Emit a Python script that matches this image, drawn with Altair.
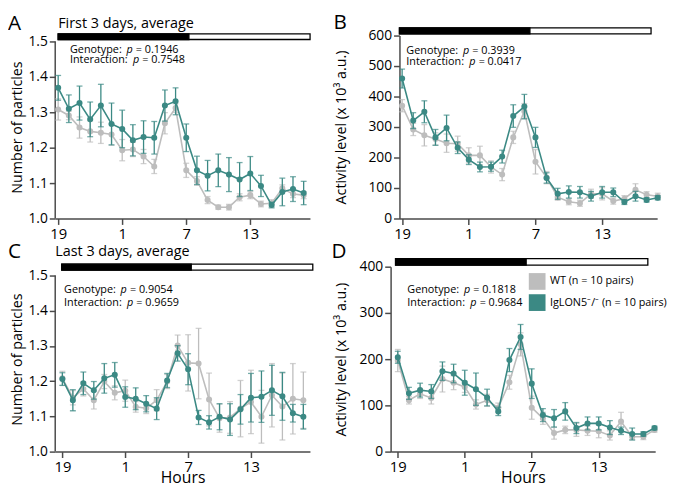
import altair as alt
import pandas as pd

# ---------------- data ----------------
HOURS = list(range(24))
TICK_POS = [0, 6, 12, 18]
TICK_LAB = ["19", "1", "7", "13"]
GENO = ["WT (n = 10 pairs)", "IgLON5\u207b/\u207b (n = 10 pairs)"]
COLORS = ["#bdbdbd", "#3b8984"]

A_WT = [1.308, 1.291, 1.257, 1.246, 1.242, 1.237, 1.193, 1.195, 1.175, 1.147, 1.269, 1.312,
        1.136, 1.106, 1.052, 1.032, 1.032, 1.060, 1.066, 1.041, 1.043, 1.085, 1.069, 1.066]
A_WT_ERR = [0.030, 0.012, 0.030, 0.030, 0.030, 0.030, 0.030, 0.020, 0.020, 0.020, 0.030, 0.012,
            0.020, 0.012, 0.010, 0.006, 0.008, 0.010, 0.010, 0.008, 0.010, 0.010, 0.010, 0.010]
A_KO = [1.369, 1.310, 1.326, 1.280, 1.319, 1.267, 1.253, 1.221, 1.230, 1.228, 1.319, 1.331,
        1.228, 1.136, 1.121, 1.136, 1.124, 1.110, 1.127, 1.092, 1.038, 1.075, 1.083, 1.072]
A_KO_ERR = [0.035, 0.039, 0.048, 0.049, 0.060, 0.059, 0.053, 0.044, 0.046, 0.046, 0.044, 0.038,
            0.039, 0.040, 0.043, 0.046, 0.048, 0.048, 0.048, 0.030, 0.008, 0.039, 0.035, 0.033]

B_WT = [370, 292, 273, 261, 247, 245, 207, 207, 169, 144, 266, 352,
        186, 134, 70, 55, 50, 81, 81, 57, 65, 94, 78, 73]
B_WT_ERR = [20, 20, 35, 20, 30, 25, 25, 30, 20, 20, 20, 25,
            40, 20, 10, 10, 10, 15, 20, 10, 10, 20, 10, 10]
B_KO = [459, 321, 350, 266, 297, 232, 193, 169, 170, 203, 336, 367,
        266, 133, 81, 87, 86, 73, 86, 86, 54, 73, 61, 68]
B_KO_ERR = [31, 26, 36, 26, 42, 19, 16, 16, 15, 21, 37, 40,
            33, 17, 18, 20, 19, 16, 19, 14, 8, 16, 7, 7]

C_WT = [1.208, 1.153, 1.178, 1.146, 1.199, 1.167, 1.173, 1.127, 1.123, 1.146, 1.199, 1.301,
        1.252, 1.250, 1.148, 1.095, 1.097, 1.122, 1.141, 1.099, 1.160, 1.128, 1.150, 1.146]
C_WT_ERR = [0.020, 0.020, 0.020, 0.025, 0.020, 0.020, 0.030, 0.015, 0.015, 0.030, 0.020, 0.030,
            0.080, 0.100, 0.075, 0.040, 0.045, 0.080, 0.090, 0.075, 0.090, 0.095, 0.100, 0.080]
C_KO = [1.206, 1.146, 1.194, 1.174, 1.208, 1.218, 1.155, 1.150, 1.136, 1.122, 1.202, 1.279,
        1.234, 1.097, 1.083, 1.099, 1.091, 1.120, 1.153, 1.156, 1.174, 1.157, 1.109, 1.099]
C_KO_ERR = [0.018, 0.030, 0.032, 0.025, 0.042, 0.035, 0.029, 0.031, 0.023, 0.031, 0.020, 0.022,
            0.044, 0.020, 0.019, 0.037, 0.045, 0.042, 0.069, 0.073, 0.071, 0.068, 0.025, 0.035]

D_WT = [197, 111, 125, 116, 157, 149, 140, 102, 111, 95, 150, 232,
        95, 72, 40, 47, 47, 45, 44, 35, 65, 32, 32, 47]
D_WT_ERR = [24, 8, 10, 13, 28, 15, 12, 10, 13, 10, 15, 25,
            25, 13, 13, 8, 14, 10, 14, 10, 20, 6, 6, 5]
D_KO = [204, 126, 133, 130, 174, 169, 149, 135, 117, 87, 198, 248,
        147, 79, 72, 87, 51, 61, 61, 52, 45, 38, 38, 51]
D_KO_ERR = [13, 13, 15, 15, 20, 20, 27, 35, 18, 9, 25, 27,
            32, 14, 19, 19, 12, 14, 14, 15, 8, 13, 5, 4]

P_TEXT = {
    "A": ["0.1946", "0.7548"],
    "B": ["0.3939", "0.0417"],
    "C": ["0.9054", "0.9659"],
    "D": ["0.1818", "0.9684"],
}
TITLES = {"A": "First 3 days, average", "C": "Last 3 days, average"}
BARS = {  # start, end of dark period, end of light period (hour index)
    "A": [0.0, 12.25, 23.6],
    "B": [-0.24, 11.5, 22.4],
    "C": [-0.06, 12.3, 23.9],
    "D": [-0.2, 11.5, 22.4],
}
Y_TICKS_P = [1.0, 1.1, 1.2, 1.3, 1.4, 1.5]
Y_TICKS_B = [0, 100, 200, 300, 400, 500, 600]
Y_TICKS_D = [0, 100, 200, 300, 400]

# ---------------- style ----------------
FONT = "Open Sans"
AXC = "#4a4a4a"
ANN = 11

label_expr = " : ".join(
    f"datum.value == {p} ? '{l}'" for p, l in zip(TICK_POS, TICK_LAB)
) + " : ''"


def txt(s, x, y, size, align="left", italic=False):
    kw = dict(align=align, baseline="middle", fontSize=size, font=FONT, color="black")
    if italic:
        kw["fontStyle"] = "italic"
    return alt.Chart(pd.DataFrame({"t": [s]})).mark_text(**kw).encode(
        x=alt.value(x), y=alt.value(y), text="t:N"
    )


def panel(key, wt, wt_err, ko, ko_err, cfg):
    xs = alt.Scale(domain=cfg["xdom"], nice=False, zero=False)
    ys = alt.Scale(domain=cfg["ydom"], nice=False, zero=False)
    xaxis = alt.Axis(values=TICK_POS, labelExpr=label_expr, labelFontSize=15)
    yaxis = alt.Axis(values=cfg["yticks"], format=cfg["yfmt"], domain=cfg["ydomline"],
                     titlePadding=cfg["ytp"])
    xtitle = "Hours" if cfg["xtitle"] else None

    def X(f):
        return alt.X(f, scale=xs, axis=xaxis, title=xtitle)

    def Y(f):
        return alt.Y(f, scale=ys, axis=yaxis, title=cfg["ytitle"])

    cscale = alt.Scale(domain=GENO, range=COLORS)
    layers = []

    # light/dark bar
    b = BARS[key]
    bar_df = pd.DataFrame({"s": [b[0]], "m": [b[1]], "e": [b[2]]})
    y1, y2 = cfg["bary"]
    layers.append(alt.Chart(bar_df).mark_rect(fill="white", stroke="black", strokeWidth=1.3)
                  .encode(x=X("s:Q"), x2="e:Q", y=alt.value(y1), y2=alt.value(y2)))
    layers.append(alt.Chart(bar_df).mark_rect(fill="black", stroke="black", strokeWidth=1.3)
                  .encode(x=X("s:Q"), x2="m:Q", y=alt.value(y1), y2=alt.value(y2)))

    if not cfg["ydomline"]:
        ax_df = pd.DataFrame({"y0": [cfg["yticks"][0]], "y1": [cfg["yticks"][-1]]})
        layers.append(alt.Chart(ax_df).mark_rule(color=AXC, strokeWidth=1.5)
                      .encode(x=alt.value(0), y=Y("y0:Q"), y2="y1:Q"))

    col = alt.Color("g:N", scale=cscale, legend=None)
    for gi, (vals, errs) in enumerate([(wt, wt_err), (ko, ko_err)]):
        g = GENO[gi]
        df = pd.DataFrame({
            "hour": HOURS,
            "value": vals,
            "lo": [v - e for v, e in zip(vals, errs)],
            "hi": [v + e for v, e in zip(vals, errs)],
            "g": [g] * len(HOURS),
        })
        base = alt.Chart(df)
        layers.append(base.mark_rule(strokeWidth=1.3).encode(x=X("hour:Q"), y=Y("lo:Q"), y2="hi:Q", color=col))
        layers.append(base.mark_tick(orient="horizontal", size=6, thickness=1.3)
                      .encode(x=X("hour:Q"), y=Y("lo:Q"), color=col))
        layers.append(base.mark_tick(orient="horizontal", size=6, thickness=1.3)
                      .encode(x=X("hour:Q"), y=Y("hi:Q"), color=col))
        layers.append(base.mark_line(strokeWidth=1.6).encode(x=X("hour:Q"), y=Y("value:Q"), color=col))
        layers.append(base.mark_circle(size=38, opacity=1).encode(x=X("hour:Q"), y=Y("value:Q"), color=col))

    # legend (key entries drawn with the same colour scale)
    if cfg.get("legend"):
        lx, ly0, dy = cfg["legend"]
        for gi, g in enumerate(GENO):
            ldf = pd.DataFrame({"g": [g]})
            layers.append(alt.Chart(ldf).mark_square(size=289, opacity=1)
                          .encode(x=alt.value(lx), y=alt.value(ly0 + gi * dy), color=col))
            layers.append(alt.Chart(ldf).mark_text(align="left", baseline="middle", fontSize=11,
                                                   font=FONT, color="black")
                          .encode(x=alt.value(lx + 13), y=alt.value(ly0 + gi * dy), text="g:N"))

    # texts
    lx, ly = cfg["letter"]
    layers.append(txt(key, lx, ly, 21))
    if key in TITLES:
        tx, ty = cfg["title"]
        layers.append(txt(TITLES[key], tx, ty, 14.6))
    ax0 = cfg["ann_x"]
    gy, iy = cfg["ann_y"]
    pg, pi = P_TEXT[key]
    for label, yy, w, val in [("Genotype:", gy, 54.5, pg), ("Interaction:", iy, 61, pi)]:
        layers.append(txt(label, ax0, yy, ANN))
        layers.append(txt("p", ax0 + w + 3, yy, ANN, italic=True))
        layers.append(txt("= " + val, ax0 + w + 12.5, yy, ANN))

    return alt.layer(*layers).properties(width=cfg["w"], height=cfg["h"])


H1, H2 = 186, 188
cfgA = dict(xdom=[-0.277, 23.59], ydom=[1.0, 1.5167], yticks=Y_TICKS_P, yfmt=".1f", ydomline=False,
            ytp=4, ytitle="Number of particles", xtitle=False, w=259, h=H1,
            bary=(-1.7, 4), letter=(-48, -12), title=(3, -12), ann_x=15, ann_y=(14.7, 25.3))
cfgB = dict(xdom=[-0.239, 22.95], ydom=[0, 600], yticks=Y_TICKS_B, yfmt="d", ydomline=True,
            ytp=20, ytitle="Activity level (x 10\u00b3 a.u.)", xtitle=False, w=262, h=H1,
            bary=(-7.7, -1.7), letter=(-67, -13), ann_x=7, ann_y=(15.6, 27.3))
cfgC = dict(xdom=[-0.685, 23.63], ydom=[1.0, 1.5251], yticks=Y_TICKS_P, yfmt=".1f", ydomline=False,
            ytp=4, ytitle="Number of particles", xtitle=True, w=259, h=H2,
            bary=(-2.6, 3.4), letter=(-48, -15), title=(0, -15), ann_x=9, ann_y=(23.7, 36.7))
cfgD = dict(xdom=[-0.643, 23.06], ydom=[0, 400], yticks=Y_TICKS_D, yfmt="d", ydomline=True,
            ytp=11, ytitle="Activity level (x 10\u00b3 a.u.)", xtitle=True, w=269, h=H2,
            bary=(-8.3, -1.7), letter=(-60, -15), ann_x=17, ann_y=(24, 36.7),
            legend=(149, 15, 21.5))

pA = panel("A", A_WT, A_WT_ERR, A_KO, A_KO_ERR, cfgA)
pB = panel("B", B_WT, B_WT_ERR, B_KO, B_KO_ERR, cfgB)
pC = panel("C", C_WT, C_WT_ERR, C_KO, C_KO_ERR, cfgC)
pD = panel("D", D_WT, D_WT_ERR, D_KO, D_KO_ERR, cfgD)

row1 = alt.hconcat(pA, pB, spacing=22)
row2 = alt.hconcat(pC, pD, spacing=18)

chart = (
    alt.vconcat(row1, row2, spacing=0)
    .properties(padding=0)
    .configure_view(stroke=None)
    .configure_axis(
        domainColor=AXC, domainWidth=1.5, tickColor=AXC, tickWidth=1.5, tickSize=6,
        labelFontSize=14, labelColor="black", labelFont=FONT, titleFont=FONT,
        titleFontWeight="normal", titleColor="black", grid=False, labelPadding=2,
        labelFlush=False,
    )
    .configure_axisX(titleFontSize=16, titlePadding=-5)
    .configure_axisY(titleFontSize=14.5)
)

chart.save("out.html", embed_options={"renderer": "svg", "actions": False})
